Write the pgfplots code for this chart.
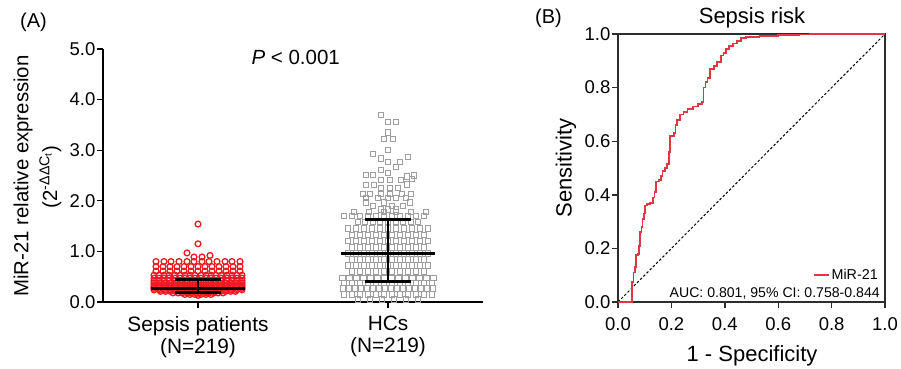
\documentclass[border=0pt]{standalone}
\usepackage{fontspec}
\setmainfont{Liberation Sans}
\usepackage{pgfplots}
\pgfplotsset{compat=1.18}
\usepackage{pgfplotstable}
\definecolor{sred}{RGB}{238,24,32}
\definecolor{rocred}{RGB}{222,56,68}
\definecolor{hcgray}{RGB}{158,158,158}
\definecolor{axgray}{RGB}{45,45,45}

\pgfplotstableread{
fpr tpr
0 0
0.053 0.075
0.058 0.11
0.063 0.13
0.068 0.175
0.075 0.18
0.078 0.21
0.082 0.26
0.088 0.28
0.092 0.31
0.097 0.33
0.102 0.36
0.108 0.365
0.120 0.37
0.130 0.39
0.137 0.41
0.142 0.45
0.153 0.455
0.160 0.47
0.167 0.49
0.175 0.50
0.183 0.515
0.190 0.56
0.195 0.62
0.210 0.63
0.215 0.66
0.222 0.68
0.232 0.70
0.245 0.71
0.260 0.72
0.280 0.73
0.300 0.74
0.315 0.745
0.320 0.80
0.328 0.82
0.335 0.835
0.345 0.87
0.360 0.88
0.370 0.895
0.385 0.92
0.395 0.93
0.405 0.945
0.415 0.955
0.430 0.965
0.445 0.975
0.460 0.985
0.480 0.99
0.530 0.993
0.600 0.995
0.680 0.998
0.720 1.0
1.000 1.0
}\roc

\begin{document}
\begin{tikzpicture}[x=1pt,y=1pt]
\useasboundingbox (0,0) rectangle (901,368);

% ---------------- Panel A ----------------
\begin{axis}[
  at={(103pt,66pt)}, anchor=south west,
  scale only axis, width=380pt, height=253pt,
  xmin=-95, xmax=285, ymin=0, ymax=5,
  axis x line*=bottom, axis y line*=left,
  axis line style={black, line width=1.2pt, -},
  tick style={black, line width=1.2pt},
  tick align=outside, major tick length=6pt,
  xtick={0,190},
  xticklabels={{Sepsis patients\\(N=219)},{HCs\\(N=219)}},
  xticklabel style={align=center, font=\fontsize{20.8}{22}\selectfont, inner sep=2pt, yshift=-6pt},
  ytick={0,1,2,3,4,5},
  yticklabel style={font=\fontsize{18.5}{20}\selectfont, inner sep=1.5pt},
  /pgf/number format/fixed, /pgf/number format/fixed zerofill, /pgf/number format/precision=1,
  /pgf/number format/assume math mode=true,
  clip=false, clip marker paths=true,
]
% HCs
\addplot[only marks, mark=square, mark size=2.7pt, hcgray, mark options={line width=1pt}] coordinates {
(183,3.70) (190,3.56) (198,3.56) (190,3.35) (186,3.22) (195,3.22) (190,3.00)
(175,2.92) (210,2.87) (183,2.84) (190,2.77) (202,2.77) (198,2.67) (183,2.61)
(190,2.55) (168,2.51) (175,2.51) (209,2.48) (216,2.50)
(183,2.41) (192,2.41) (203,2.41) (214,2.43)
(168,2.31) (176,2.31) (209,2.32) (183,2.25) (192,2.25) (200,2.25)
(165,2.13) (172,2.13) (183,2.13) (192,2.13) (204,2.13) (213,2.13)
(168,2.05) (180,2.05) (190,2.05) (198,2.05) (208,2.05)
(168,1.97) (186,1.97) (212,1.97) (175,1.90) (194,1.90) (205,1.90)
(183,1.83) (190,1.83) (198,1.83)
(156,1.78) (171,1.78) (186,1.78) (198,1.78) (213,1.78) (228,1.78)
(146,1.70) (154,1.70) (162,1.70) (170,1.70) (178,1.70) (186,1.70) (194,1.70) (202,1.70) (210,1.70) (218,1.70) (226,1.70)
(160,1.58) (167,1.58) (175,1.58) (182,1.58) (190,1.58) (198,1.58) (205,1.58) (213,1.58) (220,1.58)
(150,1.45) (158,1.45) (166,1.45) (174,1.45) (182,1.45) (190,1.45) (198,1.45) (206,1.45) (214,1.45) (222,1.45) (230,1.45)
(154,1.32) (162,1.32) (170,1.32) (178,1.32) (186,1.32) (194,1.32) (202,1.32) (210,1.32) (218,1.32) (226,1.32)
(150,1.20) (158,1.20) (166,1.20) (174,1.20) (182,1.20) (190,1.20) (198,1.20) (206,1.20) (214,1.20) (222,1.20) (230,1.20)
(154,1.08) (162,1.08) (170,1.08) (178,1.08) (186,1.08) (194,1.08) (202,1.08) (210,1.08) (218,1.08) (226,1.08)
(150,0.96) (158,0.96) (166,0.96) (174,0.96) (182,0.96) (190,0.96) (198,0.96) (206,0.96) (214,0.96) (222,0.96) (230,0.96)
(154,0.84) (162,0.84) (170,0.84) (178,0.84) (186,0.84) (194,0.84) (202,0.84) (210,0.84) (218,0.84) (226,0.84)
(150,0.72) (158,0.72) (166,0.72) (174,0.72) (182,0.72) (190,0.72) (198,0.72) (206,0.72) (214,0.72) (222,0.72) (230,0.72)
(154,0.60) (162,0.60) (170,0.60) (178,0.60) (186,0.60) (194,0.60) (202,0.60) (210,0.60) (218,0.60) (226,0.60)
(144.5,0.48) (151.5,0.48) (158.5,0.48) (165.5,0.48) (172.5,0.48) (179.5,0.48) (186.5,0.48) (193.5,0.48) (200.5,0.48) (207.5,0.48) (214.5,0.48) (221.5,0.48) (228.5,0.48) (235.5,0.48)
(146,0.38) (154,0.38) (162,0.38) (170,0.38) (178,0.38) (186,0.38) (194,0.38) (202,0.38) (210,0.38) (218,0.38) (226,0.38) (234,0.38)
(145,0.27) (151,0.27) (157,0.27) (163,0.27) (169,0.27) (175,0.27) (181,0.27) (187,0.27) (193,0.27) (199,0.27) (205,0.27) (211,0.27) (217,0.27) (223,0.27) (229,0.27) (235,0.27)
(146,0.15) (154,0.15) (162,0.15) (170,0.15) (178,0.15) (186,0.15) (194,0.15) (202,0.15) (210,0.15) (218,0.15) (226,0.15) (234,0.15)
(160,0.05) (172,0.05) (184,0.05) (196,0.05) (208,0.05) (220,0.05)
};
% Sepsis patients
\addplot[only marks, mark=o, mark size=2.9pt, sred, mark options={line width=1.3pt}] coordinates {
(0,1.54) (0,1.15) (-11,0.97) (12,0.92) (-4,0.89) (4,0.89)
(-42,0.80) (-34,0.80) (-27,0.80) (-19,0.80) (-11,0.80) (-4,0.80) (4,0.80) (11,0.80) (19,0.80) (27,0.80) (34,0.80) (42,0.80)
(-42,0.70) (-35,0.70) (-28,0.70) (-21,0.70) (-14,0.70) (-7,0.70) (0,0.70) (7,0.70) (14,0.70) (21,0.70) (28,0.70) (35,0.70) (42,0.70)
(-42,0.61) (-35,0.61) (-28,0.61) (-21,0.61) (-14,0.61) (-7,0.61) (0,0.61) (7,0.61) (14,0.61) (21,0.61) (28,0.61) (35,0.61) (42,0.61)
(-44,0.53) (-39,0.53) (-34,0.53) (-29,0.53) (-23,0.53) (-18,0.53) (-13,0.53) (-8,0.53) (-3,0.53) (3,0.53) (8,0.53) (13,0.53) (18,0.53) (23,0.53) (29,0.53) (34,0.53) (39,0.53) (44,0.53)
(-44,0.47) (-39,0.47) (-34,0.47) (-29,0.47) (-23,0.47) (-18,0.47) (-13,0.47) (-8,0.47) (-3,0.47) (3,0.47) (8,0.47) (13,0.47) (18,0.47) (23,0.47) (29,0.47) (34,0.47) (39,0.47) (44,0.47)
(-44,0.42) (-39,0.42) (-34,0.42) (-29,0.42) (-23,0.42) (-18,0.42) (-13,0.42) (-8,0.42) (-3,0.42) (3,0.42) (8,0.42) (13,0.42) (18,0.42) (23,0.42) (29,0.42) (34,0.42) (39,0.42) (44,0.42)
(-44,0.38) (-38.5,0.38) (-33,0.38) (-27.5,0.38) (-22,0.38) (-16.5,0.38) (-11,0.38) (-5.5,0.38) (0,0.38) (5.5,0.38) (11,0.38) (16.5,0.38) (22,0.38) (27.5,0.38) (33,0.38) (38.5,0.38) (44,0.38)
(-44,0.34) (-39,0.34) (-34,0.34) (-29,0.34) (-23,0.34) (-18,0.34) (-13,0.34) (-8,0.34) (-3,0.34) (3,0.34) (8,0.34) (13,0.34) (18,0.34) (23,0.34) (29,0.34) (34,0.34) (39,0.34) (44,0.34)
(-44,0.30) (-38.5,0.30) (-33,0.30) (-27.5,0.30) (-22,0.30) (-16.5,0.30) (-11,0.30) (-5.5,0.30) (0,0.30) (5.5,0.30) (11,0.30) (16.5,0.30) (22,0.30) (27.5,0.30) (33,0.30) (38.5,0.30) (44,0.30)
(-44,0.27) (-38.5,0.27) (-33,0.27) (-27.5,0.27) (-22,0.27) (-16.5,0.27) (-11,0.27) (-5.5,0.27) (0,0.27) (5.5,0.27) (11,0.27) (16.5,0.27) (22,0.27) (27.5,0.27) (33,0.27) (38.5,0.27) (44,0.27)
(-44,0.24) (-38.5,0.24) (-33,0.24) (-27.5,0.24) (-22,0.24) (-16.5,0.24) (-11,0.24) (-5.5,0.24) (0,0.24) (5.5,0.24) (11,0.24) (16.5,0.24) (22,0.24) (27.5,0.24) (33,0.24) (38.5,0.24) (44,0.24)
(-37.5,0.21) (-32.5,0.21) (-27.5,0.21) (-22.5,0.21) (-17.5,0.21) (-12.5,0.21) (-7.5,0.21) (-2.5,0.21) (2.5,0.21) (7.5,0.21) (12.5,0.21) (17.5,0.21) (22.5,0.21) (27.5,0.21) (32.5,0.21) (37.5,0.21)
(-25,0.18) (-20,0.18) (-16,0.18) (-11,0.18) (-7,0.18) (-2,0.18) (2,0.18) (7,0.18) (11,0.18) (16,0.18) (20,0.18) (25,0.18)
(-13,0.15) (-8,0.15) (-3,0.15) (3,0.15) (8,0.15) (13,0.15)
(0,0.13)
};
% median and IQR bars
\addplot[black, line width=2.8pt] coordinates {(-47,0.27) (47,0.27)};
\addplot[black, line width=2.6pt] coordinates {(-23,0.45) (23,0.45)};
\addplot[black, line width=2.6pt] coordinates {(-23,0.19) (23,0.19)};
\addplot[black, line width=2.6pt] coordinates {(0,0.19) (0,0.45)};
\addplot[black, line width=2.8pt] coordinates {(143,0.96) (237,0.96)};
\addplot[black, line width=2.6pt] coordinates {(167,1.63) (213,1.63)};
\addplot[black, line width=2.6pt] coordinates {(167,0.40) (213,0.40)};
\addplot[black, line width=2.6pt] coordinates {(190,0.40) (190,1.63)};
\node[anchor=base west, font=\fontsize{20.5}{24}\selectfont] at (axis cs:50,4.70) {\textit{P} < 0.001};
\end{axis}

\node[anchor=base, font=\fontsize{20}{24}\selectfont] at (33.5,340.7) {(A)};
\node[anchor=base, rotate=90, font=\fontsize{20.4}{24}\selectfont] at (28.3,192) {MiR-21 relative expression};
\node[anchor=base, rotate=90, font=\fontsize{20.4}{24}\selectfont] at (57,191) {(2\textsuperscript{-ΔΔC\textsubscript{t}})};

% ---------------- Panel B ----------------
\begin{axis}[
  at={(618pt,66pt)}, anchor=south west,
  scale only axis, width=267pt, height=268pt,
  xmin=0, xmax=1, ymin=0, ymax=1,
  axis line style={axgray, line width=1.4pt},
  tick style={axgray, line width=1.4pt},
  tick align=outside, major tick length=6pt,
  xtick pos=bottom, ytick pos=left,
  xtick={0,0.2,0.4,0.6,0.8,1.0},
  ytick={0,0.2,0.4,0.6,0.8,1.0},
  ticklabel style={font=\fontsize{18.5}{20}\selectfont},
  xticklabel style={yshift=-6pt},
  yticklabel style={inner sep=1.5pt},
  /pgf/number format/fixed, /pgf/number format/fixed zerofill, /pgf/number format/precision=1,
  /pgf/number format/assume math mode=true,
  clip=false,
  legend style={at={(0.981,0.10)}, anchor=east, draw=none, fill=none,
    font=\fontsize{14.3}{16}\selectfont, inner sep=0pt},
  legend cell align=left,
  legend image code/.code={\draw[#1] (0pt,0pt) -- (15pt,0pt);},
]
\addplot[black, line width=1pt, dash pattern=on 2.5pt off 2pt, forget plot] coordinates {(0,0) (1,1)};
\addplot[rocred, line width=1.7pt, const plot] table[x=fpr, y=tpr] {\roc};
\addlegendentry{MiR-21}
\node[anchor=base east, font=\fontsize{14.1}{16}\selectfont, inner sep=0pt] at (rel axis cs:0.981,0.016) {AUC: 0.801, 95\% CI: 0.758-0.844};
\end{axis}

\node[anchor=base, font=\fontsize{20}{24}\selectfont] at (548.5,344.7) {(B)};
\node[anchor=base, font=\fontsize{22}{26}\selectfont] at (752,344.7) {Sepsis risk};
\node[anchor=base, font=\fontsize{22}{26}\selectfont] at (752,6.3) {1 - Specificity};
\node[anchor=base, rotate=90, font=\fontsize{22}{26}\selectfont] at (571.7,200) {Sensitivity};
\end{tikzpicture}
\end{document}
